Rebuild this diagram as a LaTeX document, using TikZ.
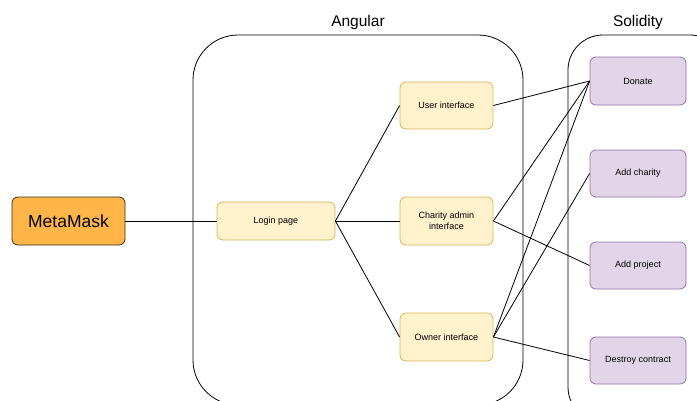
\documentclass[tikz,border=0pt]{standalone}
\usepackage{fontspec}
\setmainfont{Liberation Sans}
\usepackage{xcolor}
\usepackage{tikz}
\usetikzlibrary{positioning}

\definecolor{maskfill}{HTML}{FFB547}
\definecolor{maskline}{HTML}{3A2E1A}
\definecolor{ngfill}{HTML}{FFF2CC}
\definecolor{ngline}{HTML}{D6B656}
\definecolor{solfill}{HTML}{E1D5E7}
\definecolor{solline}{HTML}{9673A6}

\begin{document}
\begin{tikzpicture}[
    x=1pt, y=-1pt,
    wallet/.style={draw=maskline, fill=maskfill, rounded corners=6pt, line width=0.8pt,
        minimum width=113pt, minimum height=48pt, inner sep=0pt, font=\fontsize{17.5}{20}\selectfont},
    page/.style={draw=ngline, fill=ngfill, rounded corners=6pt, line width=0.8pt,
        minimum width=93pt, minimum height=47pt, inner sep=0pt, align=center, font=\fontsize{9}{11}\selectfont},
    func/.style={draw=solline, fill=solfill, rounded corners=6pt, line width=0.8pt,
        minimum width=96pt, minimum height=47pt, inner sep=0pt, align=center, font=\fontsize{9}{11}\selectfont},
    group/.style={draw, line width=0.8pt},
    title/.style={font=\fontsize{15.5}{18}\selectfont},
    link/.style={draw, line width=0.8pt}
]

\useasboundingbox (0,0) rectangle (697,400);
\clip (0,0) rectangle (697,400);

% Containers
\draw[group, rounded corners=45pt] (193,35) rectangle (523,405);
\node[title] (angular) at (358,22) {Angular};

\draw[group, rounded corners=35pt] (568,35) rectangle (725,422);
\node[title] (solidity) at (638,22) {Solidity};

% Wallet
\node[wallet] (meta) at (68.5,221) {MetaMask};

% Angular pages
\node[page, minimum width=118pt, minimum height=38pt] (login) at (276,221) {Login page};
\node[page] (user) at (446.5,105.5) {User interface};
\node[page, minimum height=48pt] (charity) at (446.5,221) {Charity admin\\interface};
\node[page, minimum height=48pt] (owner) at (446.5,337) {Owner interface};

% Contract functions
\node[func, minimum height=48pt] (donate) at (638,81) {Donate};
\node[func] (addcharity) at (638,173.5) {Add charity};
\node[func] (addproject) at (638,265.5) {Add project};
\node[func] (destroy) at (638,360.5) {Destroy contract};

% Links
\path[link] (meta.east) -- (login.west);
\path[link] (login.east) -- (user.west);
\path[link] (login.east) -- (charity.west);
\path[link] (login.east) -- (owner.west);

\path[link] (user.east) -- (donate.west);
\path[link] (charity.east) -- (donate.west);
\path[link] (charity.east) -- (addproject.west);
\path[link] (owner.east) -- (donate.west);
\path[link] (owner.east) -- (addcharity.west);
\path[link] (owner.east) -- (destroy.west);

\end{tikzpicture}
\end{document}
